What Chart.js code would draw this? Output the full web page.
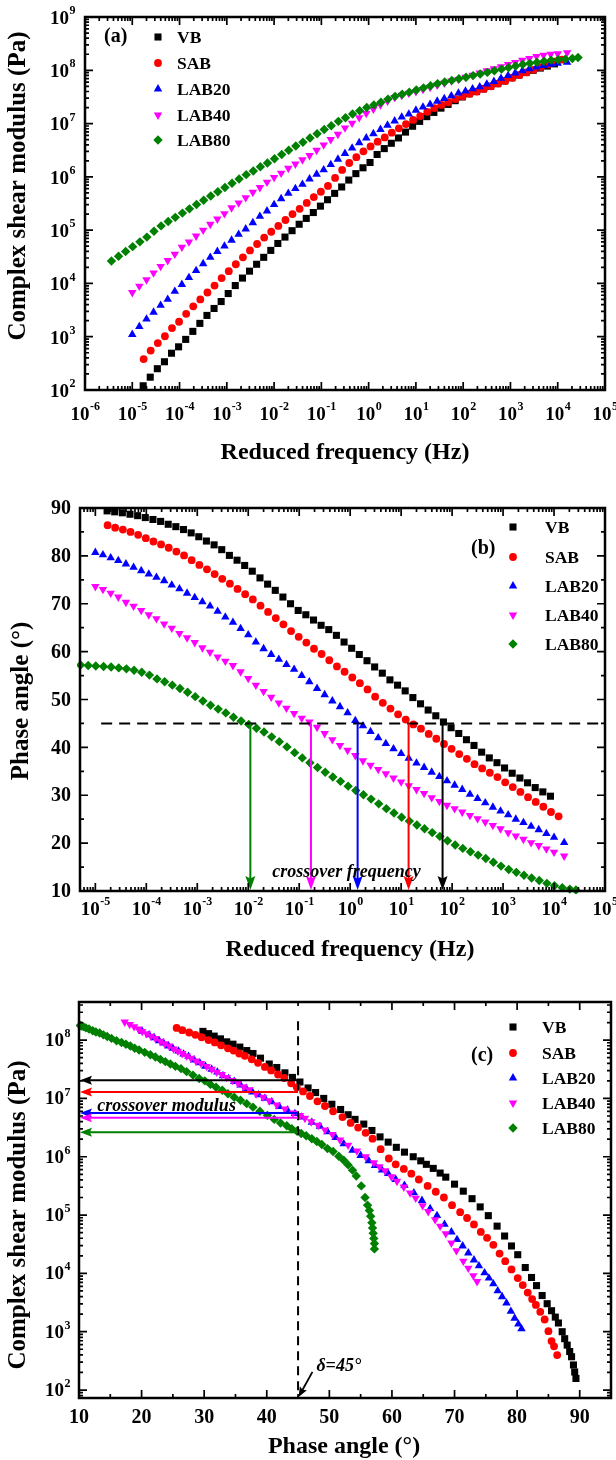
<!DOCTYPE html>
<html lang="en">
<head>
<meta charset="utf-8">
<title>Master curves, phase angle and Black diagram of VB, SAB and LAB binders</title>
<script src="https://cdn.jsdelivr.net/npm/chart.js@4.4.1/dist/chart.umd.min.js"></script>
<style>
  html, body { margin: 0; padding: 0; background: #ffffff; }
  #figure { position: relative; width: 616px; height: 1460px; overflow: hidden; background: #ffffff; }
  #figure canvas { position: absolute; left: 0; }
</style>
</head>
<body>
<div id="figure">
  <canvas id="panelA" width="616" height="480" style="top:0px"></canvas>
  <canvas id="panelB" width="616" height="490" style="top:480px"></canvas>
  <canvas id="panelC" width="616" height="490" style="top:970px"></canvas>
</div>
<script>
// ---------------------------------------------------------------------------
// Binders
const seriesNames = ['VB', 'SAB', 'LAB20', 'LAB40', 'LAB80'];

// Reduced frequency (Hz) of every point on the master curves
const freqVB = [1.70e-5, 2.40e-5, 3.39e-5, 4.79e-5, 6.76e-5, 9.55e-5, 1.35e-4, 1.91e-4, 2.69e-4, 3.80e-4,
  5.37e-4, 7.59e-4, 1.07e-3, 1.51e-3, 2.14e-3, 3.02e-3, 4.27e-3, 6.03e-3, 8.51e-3, 1.20e-2,
  1.70e-2, 2.40e-2, 3.39e-2, 4.79e-2, 6.76e-2, 9.55e-2, 0.135, 0.191, 0.269, 0.380,
  0.537, 0.759, 1.07, 1.51, 2.14, 3.02, 4.27, 6.03, 8.51, 12.0,
  17.0, 24.0, 33.9, 47.9, 67.6, 95.5, 135, 191, 269, 380,
  537, 759, 1070, 1510, 2140, 3020, 4270, 6030, 8510];
const freqSAB = [1.74e-5, 2.45e-5, 3.47e-5, 4.90e-5, 6.92e-5, 9.77e-5, 1.38e-4, 1.95e-4, 2.75e-4, 3.89e-4,
  5.50e-4, 7.76e-4, 1.10e-3, 1.55e-3, 2.19e-3, 3.09e-3, 4.37e-3, 6.17e-3, 8.71e-3, 1.23e-2,
  1.74e-2, 2.45e-2, 3.47e-2, 4.90e-2, 6.92e-2, 9.77e-2, 0.138, 0.195, 0.275, 0.389,
  0.550, 0.776, 1.10, 1.55, 2.19, 3.09, 4.37, 6.17, 8.71, 12.3,
  17.4, 24.5, 34.7, 49.0, 69.2, 97.7, 138, 195, 275, 389,
  550, 776, 1100, 1550, 2190, 3090, 4370, 6170, 8710, 12300];
// LAB20 and LAB40 share the same reduced-frequency grid
const freqLAB20 = [1.00e-5, 1.41e-5, 2.00e-5, 2.82e-5, 3.98e-5, 5.62e-5, 7.94e-5, 1.12e-4, 1.58e-4, 2.24e-4,
  3.16e-4, 4.47e-4, 6.31e-4, 8.91e-4, 1.26e-3, 1.78e-3, 2.51e-3, 3.55e-3, 5.01e-3, 7.08e-3,
  1.00e-2, 1.41e-2, 2.00e-2, 2.82e-2, 3.98e-2, 5.62e-2, 7.94e-2, 0.112, 0.158, 0.224,
  0.316, 0.447, 0.631, 0.891, 1.26, 1.78, 2.51, 3.55, 5.01, 7.08,
  10.0, 14.1, 20.0, 28.2, 39.8, 56.2, 79.4, 112, 158, 224,
  316, 447, 631, 891, 1260, 1780, 2510, 3550, 5010, 7080,
  10000, 15800];
const freqLAB40 = freqLAB20;
const freqLAB80 = [3.63e-6, 5.13e-6, 7.24e-6, 1.02e-5, 1.45e-5, 2.04e-5, 2.88e-5, 4.07e-5, 5.75e-5, 8.13e-5,
  1.15e-4, 1.62e-4, 2.29e-4, 3.24e-4, 4.57e-4, 6.46e-4, 9.12e-4, 1.29e-3, 1.82e-3, 2.57e-3,
  3.63e-3, 5.13e-3, 7.24e-3, 1.02e-2, 1.45e-2, 2.04e-2, 2.88e-2, 4.07e-2, 5.75e-2, 8.13e-2,
  0.115, 0.162, 0.229, 0.324, 0.457, 0.646, 0.912, 1.29, 1.82, 2.57,
  3.63, 5.13, 7.24, 10.2, 14.5, 20.4, 28.8, 40.7, 57.5, 81.3,
  115, 162, 229, 324, 457, 646, 912, 1290, 1820, 2570,
  3630, 5130, 7240, 10200, 14500, 20400, 26900];

// Complex shear modulus |G*| (Pa) on the master curves
const modVB = [120, 174, 251, 339, 490, 646, 891, 1260, 1780, 2510,
  3390, 4570, 6460, 9120, 1.26e4, 1.70e4, 2.29e4, 3.09e4, 4.17e4, 5.62e4,
  7.41e4, 9.77e4, 1.29e5, 1.66e5, 2.14e5, 2.82e5, 3.72e5, 4.90e5, 6.46e5, 8.71e5,
  1.15e6, 1.48e6, 1.86e6, 2.63e6, 3.39e6, 4.27e6, 5.37e6, 6.92e6, 8.91e6, 1.10e7,
  1.35e7, 1.62e7, 1.95e7, 2.29e7, 2.69e7, 3.16e7, 3.63e7, 3.98e7, 4.47e7, 5.01e7,
  5.62e7, 6.31e7, 7.24e7, 8.13e7, 9.12e7, 1.00e8, 1.10e8, 1.20e8, 1.32e8];
const modSAB = [380, 550, 759, 1020, 1450, 1910, 2690, 3720, 5010, 6760,
  9120, 1.26e4, 1.70e4, 2.29e4, 3.09e4, 4.17e4, 5.50e4, 7.24e4, 9.33e4, 1.20e5,
  1.55e5, 2.00e5, 2.51e5, 3.24e5, 4.17e5, 5.25e5, 6.76e5, 9.55e5, 1.35e6, 1.82e6,
  2.34e6, 3.02e6, 3.72e6, 4.57e6, 5.50e6, 6.76e6, 8.13e6, 9.77e6, 1.17e7, 1.38e7,
  1.66e7, 1.95e7, 2.24e7, 2.51e7, 2.88e7, 3.24e7, 3.63e7, 3.98e7, 4.47e7, 5.01e7,
  5.62e7, 6.31e7, 7.24e7, 8.13e7, 9.12e7, 1.02e8, 1.15e8, 1.29e8, 1.45e8, 1.58e8];
const modLAB20 = [1100, 1550, 2140, 2880, 3890, 5010, 7080, 9550, 1.29e4, 1.74e4,
  2.34e4, 3.09e4, 3.98e4, 5.01e4, 6.46e4, 8.32e4, 1.05e5, 1.38e5, 1.82e5, 2.29e5,
  3.02e5, 3.89e5, 4.90e5, 6.03e5, 7.24e5, 9.12e5, 1.12e6, 1.35e6, 1.70e6, 2.14e6,
  2.75e6, 3.47e6, 4.37e6, 5.37e6, 6.46e6, 7.76e6, 9.33e6, 1.12e7, 1.32e7, 1.51e7,
  1.78e7, 2.04e7, 2.29e7, 2.63e7, 2.95e7, 3.31e7, 3.72e7, 4.07e7, 4.47e7, 4.90e7,
  5.50e7, 6.17e7, 7.08e7, 7.94e7, 8.91e7, 9.77e7, 1.07e8, 1.15e8, 1.23e8, 1.29e8,
  1.35e8, 1.41e8];
const modLAB40 = [6760, 8910, 1.17e4, 1.58e4, 2.09e4, 2.69e4, 3.55e4, 4.79e4, 6.03e4, 7.76e4,
  1.00e5, 1.29e5, 1.62e5, 2.04e5, 2.63e5, 3.24e5, 4.07e5, 5.13e5, 6.31e5, 7.94e5,
  9.77e5, 1.17e6, 1.45e6, 1.74e6, 2.09e6, 2.51e6, 3.16e6, 3.98e6, 5.01e6, 6.31e6,
  8.32e6, 1.02e7, 1.29e7, 1.55e7, 1.86e7, 2.24e7, 2.63e7, 3.09e7, 3.39e7, 3.72e7,
  3.98e7, 4.37e7, 4.79e7, 5.25e7, 5.75e7, 6.31e7, 6.76e7, 7.41e7, 8.13e7, 8.91e7,
  9.77e7, 1.07e8, 1.17e8, 1.29e8, 1.41e8, 1.55e8, 1.66e8, 1.82e8, 1.91e8, 2.00e8,
  2.04e8, 2.14e8];
const modLAB80 = [2.63e4, 3.24e4, 3.98e4, 4.90e4, 6.03e4, 7.41e4, 9.55e4, 1.20e5, 1.45e5, 1.74e5,
  2.09e5, 2.51e5, 3.02e5, 3.63e5, 4.37e5, 5.25e5, 6.31e5, 7.59e5, 9.12e5, 1.10e6,
  1.29e6, 1.55e6, 1.82e6, 2.19e6, 2.63e6, 3.16e6, 3.80e6, 4.47e6, 5.37e6, 6.46e6,
  7.76e6, 9.12e6, 1.10e7, 1.29e7, 1.51e7, 1.74e7, 2.00e7, 2.24e7, 2.51e7, 2.88e7,
  3.24e7, 3.55e7, 3.89e7, 4.27e7, 4.68e7, 5.13e7, 5.62e7, 6.03e7, 6.46e7, 6.92e7,
  7.41e7, 7.94e7, 8.51e7, 9.12e7, 9.77e7, 1.05e8, 1.12e8, 1.20e8, 1.29e8, 1.35e8,
  1.41e8, 1.48e8, 1.55e8, 1.58e8, 1.62e8, 1.66e8, 1.74e8];

// Phase angle δ (°) at the same points
const phaseVB = [89.4, 89.2, 89.0, 88.7, 88.4, 88.0, 87.6, 87.2, 86.6, 86.1,
  85.5, 84.8, 84.0, 83.1, 82.3, 81.3, 80.1, 79.1, 78.0, 76.8,
  75.4, 74.1, 72.8, 71.4, 70.0, 68.6, 67.7, 66.6, 65.5, 64.6,
  63.4, 62.0, 60.7, 59.4, 58.1, 56.8, 55.5, 54.1, 53.0, 51.8,
  50.4, 49.1, 47.8, 46.6, 45.3, 44.1, 42.9, 41.6, 40.4, 39.0,
  37.8, 36.8, 35.7, 34.6, 33.6, 32.6, 31.6, 30.7, 29.8];
const phaseSAB = [86.4, 85.9, 85.5, 85.0, 84.4, 83.7, 83.0, 82.4, 81.7, 80.9,
  80.1, 79.1, 78.1, 77.2, 76.2, 75.2, 74.2, 73.1, 72.0, 70.9,
  69.6, 68.3, 67.0, 65.7, 64.3, 63.1, 61.9, 60.6, 59.5, 58.2,
  56.9, 55.8, 54.6, 53.4, 52.1, 50.6, 49.3, 48.1, 46.9, 45.8,
  44.8, 43.9, 42.8, 41.8, 40.7, 39.7, 38.6, 37.6, 36.5, 35.6,
  34.7, 33.8, 32.7, 31.7, 30.7, 29.6, 28.6, 27.6, 26.5, 25.6];
const phaseLAB20 = [80.7, 80.2, 79.6, 79.0, 78.3, 77.6, 76.9, 76.2, 75.5, 74.8,
  73.9, 73.1, 72.2, 71.3, 70.4, 69.5, 68.4, 67.2, 66.1, 64.8,
  63.5, 62.0, 60.6, 59.4, 58.4, 57.3, 56.3, 55.0, 53.7, 52.3,
  51.0, 49.7, 48.5, 47.2, 45.6, 44.5, 43.3, 42.0, 40.8, 39.7,
  38.7, 37.7, 36.7, 35.8, 34.8, 33.9, 33.0, 32.1, 31.2, 30.2,
  29.3, 28.4, 27.5, 26.7, 25.9, 25.0, 24.3, 23.5, 22.8, 22.0,
  21.2, 20.1];
const phaseLAB40 = [73.6, 73.0, 72.2, 71.4, 70.3, 69.5, 68.6, 67.7, 66.9, 65.8,
  64.9, 63.8, 62.9, 61.9, 60.8, 59.9, 58.9, 58.0, 57.1, 55.8,
  54.4, 53.0, 51.7, 50.5, 49.3, 48.2, 47.1, 46.1, 45.3, 44.2,
  42.9, 41.6, 40.4, 39.4, 38.3, 37.2, 36.3, 35.4, 34.5, 33.6,
  32.8, 32.0, 31.2, 30.4, 29.5, 28.7, 27.9, 27.2, 26.5, 25.8,
  25.1, 24.4, 23.7, 23.0, 22.2, 21.5, 20.8, 20.1, 19.5, 18.8,
  18.1, 17.3];
const phaseLAB80 = [57.2, 57.2, 57.1, 57.0, 56.9, 56.8, 56.6, 56.4, 56.1, 55.7,
  55.1, 54.3, 53.7, 53.0, 52.3, 51.5, 50.6, 49.7, 48.8, 48.0,
  47.2, 46.3, 45.5, 44.8, 44.0, 43.2, 42.2, 41.2, 40.1, 38.9,
  37.8, 36.8, 35.8, 34.8, 33.8, 32.9, 31.9, 31.0, 30.1, 29.2,
  28.2, 27.2, 26.3, 25.4, 24.6, 23.8, 23.0, 22.2, 21.4, 20.5,
  19.6, 18.9, 18.2, 17.5, 16.8, 16.0, 15.2, 14.5, 13.9, 13.3,
  12.7, 12.2, 11.6, 11.1, 10.7, 10.4, 10.2];

// |G*| (Pa) paired with the phase angles above in the Black diagram
const blackModVB = [158, 204, 269, 372, 457, 589, 759, 1000, 1410, 1780,
  2290, 3020, 4170, 6170, 8510, 1.26e4, 2.09e4, 2.95e4, 4.37e4, 6.46e4,
  9.77e4, 1.38e5, 1.91e5, 2.57e5, 3.39e5, 4.47e5, 5.25e5, 6.31e5, 7.41e5, 8.51e5,
  1.00e6, 1.20e6, 1.45e6, 1.78e6, 2.19e6, 2.82e6, 3.63e6, 4.37e6, 5.25e6, 6.46e6,
  7.94e6, 1.00e7, 1.26e7, 1.51e7, 1.91e7, 2.29e7, 2.75e7, 3.39e7, 3.89e7, 4.90e7,
  5.89e7, 6.61e7, 7.59e7, 8.51e7, 9.33e7, 1.05e8, 1.17e8, 1.29e8, 1.41e8];
const blackModSAB = [398, 562, 692, 1020, 1620, 2190, 2880, 3630, 4680, 6310,
  8320, 1.17e4, 1.62e4, 2.19e4, 3.09e4, 4.07e4, 5.13e4, 6.92e4, 8.91e4, 1.12e5,
  1.48e5, 2.00e5, 2.51e5, 3.16e5, 4.07e5, 5.13e5, 6.17e5, 7.41e5, 9.33e5, 1.35e6,
  2.04e6, 2.57e6, 3.16e6, 3.80e6, 4.79e6, 6.03e6, 7.41e6, 8.91e6, 1.10e7, 1.32e7,
  1.55e7, 1.82e7, 2.24e7, 2.57e7, 3.02e7, 3.47e7, 4.07e7, 4.68e7, 5.37e7, 5.89e7,
  6.61e7, 7.24e7, 8.13e7, 9.12e7, 1.00e8, 1.12e8, 1.23e8, 1.35e8, 1.48e8, 1.62e8];
const blackModLAB20 = [1120, 1350, 1700, 2240, 3090, 3980, 5010, 6610, 8320, 1.02e4,
  1.35e4, 1.70e4, 2.24e4, 2.95e4, 3.80e4, 5.13e4, 6.92e4, 9.77e4, 1.29e5, 1.78e5,
  2.40e5, 3.24e5, 4.07e5, 5.13e5, 5.89e5, 7.08e5, 8.51e5, 1.05e6, 1.29e6, 1.66e6,
  2.14e6, 2.69e6, 3.31e6, 3.89e6, 4.79e6, 5.50e6, 6.31e6, 7.24e6, 8.71e6, 1.00e7,
  1.15e7, 1.29e7, 1.48e7, 1.70e7, 1.95e7, 2.19e7, 2.45e7, 2.82e7, 3.16e7, 3.55e7,
  4.07e7, 4.57e7, 5.25e7, 5.75e7, 6.46e7, 7.24e7, 7.94e7, 8.91e7, 9.77e7, 1.10e8,
  1.23e8, 1.41e8];
const blackModLAB40 = [7240, 9120, 1.23e4, 1.62e4, 2.45e4, 3.31e4, 4.79e4, 6.46e4, 8.32e4, 1.15e5,
  1.45e5, 1.95e5, 2.40e5, 3.02e5, 3.80e5, 4.57e5, 5.75e5, 6.76e5, 7.94e5, 1.00e6,
  1.26e6, 1.58e6, 1.95e6, 2.40e6, 2.88e6, 3.47e6, 3.98e6, 4.57e6, 5.13e6, 5.62e6,
  6.61e6, 7.76e6, 9.12e6, 1.05e7, 1.20e7, 1.41e7, 1.58e7, 1.82e7, 2.04e7, 2.29e7,
  2.57e7, 2.82e7, 3.16e7, 3.55e7, 3.98e7, 4.37e7, 4.90e7, 5.37e7, 5.89e7, 6.46e7,
  7.08e7, 7.94e7, 8.71e7, 9.55e7, 1.07e8, 1.17e8, 1.29e8, 1.41e8, 1.55e8, 1.70e8,
  1.86e8, 2.04e8];
const blackModLAB80 = [2.63e4, 3.24e4, 3.98e4, 4.90e4, 6.03e4, 7.41e4, 9.55e4, 1.20e5, 1.48e5, 2.00e5,
  3.16e5, 4.68e5, 5.89e5, 7.24e5, 8.71e5, 1.02e6, 1.23e6, 1.38e6, 1.62e6, 1.82e6,
  2.04e6, 2.29e6, 2.51e6, 2.75e6, 3.02e6, 3.39e6, 3.80e6, 4.37e6, 5.13e6, 6.03e6,
  7.08e6, 8.13e6, 9.33e6, 1.05e7, 1.20e7, 1.38e7, 1.55e7, 1.74e7, 2.00e7, 2.19e7,
  2.51e7, 2.88e7, 3.24e7, 3.55e7, 3.89e7, 4.27e7, 4.68e7, 5.13e7, 5.62e7, 6.17e7,
  6.76e7, 7.24e7, 7.94e7, 8.51e7, 9.12e7, 9.77e7, 1.07e8, 1.15e8, 1.23e8, 1.32e8,
  1.38e8, 1.45e8, 1.55e8, 1.62e8, 1.70e8, 1.74e8, 1.78e8];

// Crossover points (δ = 45°): frequency (Hz) and modulus (Pa), in series order
const crossoverFreq = [65, 14, 1.4, 0.17, 0.011];
const crossoverModulus = [2.04e7, 1.29e7, 5.62e6, 4.68e6, 2.63e6];

// Tick labels
const freqTicksA = [1e-6, 1e-5, 1e-4, 1e-3, 1e-2, 1e-1, 1e0, 1e1, 1e2, 1e3, 1e4, 1e5];
const modulusTicksA = [1e2, 1e3, 1e4, 1e5, 1e6, 1e7, 1e8, 1e9];
const freqTicksB = [1e-5, 1e-4, 1e-3, 1e-2, 1e-1, 1e0, 1e1, 1e2, 1e3, 1e4, 1e5];
const phaseTicksB = [10, 20, 30, 40, 50, 60, 70, 80, 90];
const phaseTicksC = [10, 20, 30, 40, 50, 60, 70, 80, 90];
const modulusTicksC = [1e2, 1e3, 1e4, 1e5, 1e6, 1e7, 1e8];

// ---------------------------------------------------------------------------
// Styling
const FONT = '"Liberation Serif", "Times New Roman", Times, serif';
const COLORS = ['#000000', '#ff0000', '#0000ff', '#ff00ff', '#008000'];
const MARKERS = [
  { style: 'rect', radius: 5.0, rotation: 0 },
  { style: 'circle', radius: 3.9, rotation: 0 },
  { style: 'triangle', radius: 4.9, rotation: 0 },
  { style: 'triangle', radius: 4.9, rotation: 180 },
  { style: 'rectRot', radius: 4.7, rotation: 0 }
];

function buildDatasets(xArrays, yArrays) {
  return seriesNames.map((name, i) => ({
    label: name,
    data: xArrays[i].map((x, j) => ({ x: x, y: yArrays[i][j] })),
    pointStyle: MARKERS[i].style,
    pointRadius: MARKERS[i].radius,
    pointRotation: MARKERS[i].rotation,
    backgroundColor: COLORS[i],
    borderColor: COLORS[i],
    borderWidth: 0,
    showLine: false,
    clip: 3,
    order: seriesNames.length - i   // later binders are drawn on top
  }));
}

// Major/minor tick positions for a log axis
function logTicks(min, max) {
  const out = [];
  const k0 = Math.floor(Math.log10(min)), k1 = Math.ceil(Math.log10(max));
  for (let k = k0; k <= k1; k++) {
    for (let m = 1; m <= 9; m++) {
      const v = m * Math.pow(10, k);
      if (v >= min * 0.9999 && v <= max * 1.0001) out.push({ v: v, major: m === 1 });
    }
  }
  return out;
}
// Major/minor tick positions for a linear axis
function linTicks(min, max, minorStep, majorStep) {
  const out = [];
  for (let v = Math.ceil(min / minorStep) * minorStep; v <= max + 1e-9; v += minorStep) {
    out.push({ v: v, major: Math.abs(v / majorStep - Math.round(v / majorStep)) < 1e-6 });
  }
  return out;
}

function drawFrameAndTicks(chart, xTicks, yTicks, minorLen) {
  const ctx = chart.ctx, a = chart.chartArea, xs = chart.scales.x, ys = chart.scales.y;
  ctx.save();
  ctx.strokeStyle = '#000';
  ctx.lineWidth = 1.7;
  ctx.beginPath();
  xTicks.forEach(t => {
    const p = xs.getPixelForValue(t.v);
    if (p < a.left + 1.5 || p > a.right - 1.5) return;
    const len = t.major ? 8 : minorLen;
    ctx.moveTo(p, a.bottom); ctx.lineTo(p, a.bottom - len);
    ctx.moveTo(p, a.top); ctx.lineTo(p, a.top + len);
  });
  yTicks.forEach(t => {
    const p = ys.getPixelForValue(t.v);
    if (p < a.top + 1.5 || p > a.bottom - 1.5) return;
    const len = t.major ? 8 : minorLen;
    ctx.moveTo(a.left, p); ctx.lineTo(a.left + len, p);
    ctx.moveTo(a.right, p); ctx.lineTo(a.right - len, p);
  });
  ctx.stroke();
  ctx.lineWidth = 2.5;
  ctx.strokeRect(a.left, a.top, a.right - a.left, a.bottom - a.top);
  ctx.restore();
}

// "10" with a superscript exponent
function drawPow(ctx, exponent, x, y, align, supDy) {
  const base = 'bold 19px ' + FONT, sup = 'bold 12px ' + FONT;
  const e = String(exponent);
  ctx.font = base; const wb = ctx.measureText('10').width;
  ctx.font = sup; const ws = ctx.measureText(e).width;
  const x0 = align === 'center' ? x - (wb + ws) / 2 : x - (wb + ws);
  ctx.textAlign = 'left'; ctx.textBaseline = 'middle'; ctx.fillStyle = '#000';
  ctx.font = base; ctx.fillText('10', x0, y);
  ctx.font = sup; ctx.fillText(e, x0 + wb + 0.5, y + supDy);
}

function drawText(ctx, text, x, y, font, rotateDeg) {
  ctx.save();
  ctx.translate(x, y);
  if (rotateDeg) ctx.rotate(rotateDeg * Math.PI / 180);
  ctx.font = font; ctx.fillStyle = '#000';
  ctx.textAlign = 'center'; ctx.textBaseline = 'middle';
  ctx.fillText(text, 0, 0);
  ctx.restore();
}

function drawMarker(ctx, i, x, y) {
  const m = MARKERS[i], r = m.radius;
  ctx.save();
  ctx.fillStyle = COLORS[i];
  ctx.beginPath();
  if (m.style === 'rect') {
    const s = r * Math.SQRT1_2;
    ctx.rect(x - s, y - s, 2 * s, 2 * s);
  } else if (m.style === 'circle') {
    ctx.arc(x, y, r, 0, Math.PI * 2);
  } else if (m.style === 'triangle') {
    const d = m.rotation ? -1 : 1;
    ctx.moveTo(x, y - d * r);
    ctx.lineTo(x + r * 0.866, y + d * r / 2);
    ctx.lineTo(x - r * 0.866, y + d * r / 2);
    ctx.closePath();
  } else {
    ctx.moveTo(x, y - r); ctx.lineTo(x + r, y); ctx.lineTo(x, y + r); ctx.lineTo(x - r, y);
    ctx.closePath();
  }
  ctx.fill();
  ctx.restore();
}

function drawLegend(ctx, tag, tagX, tagY, markerX, textX, rows) {
  ctx.save();
  ctx.fillStyle = '#000';
  ctx.textAlign = 'left'; ctx.textBaseline = 'middle';
  ctx.font = 'bold 20px ' + FONT;
  ctx.fillText(tag, tagX, tagY);
  rows.forEach((y, i) => {
    drawMarker(ctx, i, markerX, y);
    ctx.font = 'bold 17.5px ' + FONT;
    ctx.fillStyle = '#000';
    ctx.fillText(seriesNames[i], textX, y + 1);
  });
  ctx.restore();
}

function drawArrow(ctx, x1, y1, x2, y2, color, lw, headLen, headW) {
  const ang = Math.atan2(y2 - y1, x2 - x1);
  const bx = x2 - Math.cos(ang) * headLen, by = y2 - Math.sin(ang) * headLen;
  ctx.save();
  ctx.strokeStyle = color; ctx.fillStyle = color; ctx.lineWidth = lw;
  ctx.beginPath(); ctx.moveTo(x1, y1); ctx.lineTo(x2 - Math.cos(ang) * headLen * 0.6, y2 - Math.sin(ang) * headLen * 0.6); ctx.stroke();
  ctx.beginPath();
  ctx.moveTo(x2, y2);
  ctx.lineTo(bx + Math.sin(ang) * headW / 2, by - Math.cos(ang) * headW / 2);
  ctx.lineTo(x2 - Math.cos(ang) * headLen * 0.82, y2 - Math.sin(ang) * headLen * 0.82);
  ctx.lineTo(bx - Math.sin(ang) * headW / 2, by + Math.cos(ang) * headW / 2);
  ctx.closePath(); ctx.fill();
  ctx.restore();
}

// ---------------------------------------------------------------------------
// Panel decorations
function decorA(chart) {
  const ctx = chart.ctx, a = chart.chartArea, xs = chart.scales.x, ys = chart.scales.y;
  drawFrameAndTicks(chart, logTicks(xs.min, xs.max), logTicks(ys.min, ys.max), 4);
  freqTicksA.forEach(v => drawPow(ctx, Math.round(Math.log10(v)), xs.getPixelForValue(v), a.bottom + 25, 'center', -8));
  modulusTicksA.forEach(v => drawPow(ctx, Math.round(Math.log10(v)), a.left - 10, ys.getPixelForValue(v) + 2, 'right', -8));
  drawText(ctx, 'Reduced frequency (Hz)', 345, 453, 'bold 24px ' + FONT, 0);
  drawText(ctx, 'Complex shear modulus (Pa)', 19, 186, 'bold 25px ' + FONT, -90);
  drawLegend(ctx, '(a)', 104, 37, 158, 177, [37, 63, 89, 115, 140]);
}

function decorB(chart) {
  const ctx = chart.ctx, a = chart.chartArea, xs = chart.scales.x, ys = chart.scales.y;
  const y45 = ys.getPixelForValue(45);
  ctx.save();
  ctx.strokeStyle = '#000'; ctx.lineWidth = 2; ctx.setLineDash([11, 7]);
  ctx.beginPath(); ctx.moveTo(xs.getPixelForValue(1.3e-5), y45); ctx.lineTo(a.right, y45); ctx.stroke();
  ctx.restore();
  crossoverFreq.forEach((f, i) => {
    const x = xs.getPixelForValue(f);
    drawArrow(ctx, x, y45, x, a.bottom - 1, COLORS[i], 2, 14, 10);
  });
  drawText(ctx, 'crossover frequency', xs.getPixelForValue(0.85), ys.getPixelForValue(14), 'italic bold 18px ' + FONT, 0);
  drawFrameAndTicks(chart, logTicks(xs.min, xs.max), linTicks(ys.min, ys.max, 5, 10), 4);
  ctx.save();
  freqTicksB.forEach(v => drawPow(ctx, Math.round(Math.log10(v)), xs.getPixelForValue(v), a.bottom + 19, 'center', -8));
  ctx.font = 'bold 20px ' + FONT; ctx.fillStyle = '#000'; ctx.textAlign = 'right'; ctx.textBaseline = 'middle';
  phaseTicksB.forEach(v => ctx.fillText(String(v), a.left - 9, ys.getPixelForValue(v) + 1));
  ctx.restore();
  drawText(ctx, 'Reduced frequency (Hz)', 350, 470, 'bold 24px ' + FONT, 0);
  drawText(ctx, 'Phase angle (\u00B0)', 22, 221, 'bold 25px ' + FONT, -90);
  drawLegend(ctx, '(b)', 471, 69, 513, 545, [47, 77, 106, 135, 164]);
}

function decorC(chart) {
  const ctx = chart.ctx, a = chart.chartArea, xs = chart.scales.x, ys = chart.scales.y;
  const x45 = xs.getPixelForValue(45);
  ctx.save();
  ctx.strokeStyle = '#000'; ctx.lineWidth = 2; ctx.setLineDash([9, 6]);
  ctx.beginPath(); ctx.moveTo(x45, ys.getPixelForValue(2.1e8)); ctx.lineTo(x45, a.bottom); ctx.stroke();
  ctx.restore();
  crossoverModulus.forEach((g, i) => {
    const y = ys.getPixelForValue(g);
    drawArrow(ctx, x45, y, a.left + 1, y, COLORS[i], 2, 12, 9);
  });
  drawText(ctx, 'crossover modulus', xs.getPixelForValue(24), ys.getPixelForValue(7.4e6), 'italic bold 18px ' + FONT, 0);
  drawText(ctx, '\u03B4=45\u00B0', xs.getPixelForValue(51.5), ys.getPixelForValue(250), 'italic bold 18px ' + FONT, 0);
  drawArrow(ctx, xs.getPixelForValue(47.3), ys.getPixelForValue(205), x45 + 0.5, a.bottom - 1, '#000', 1.8, 10, 8);
  drawFrameAndTicks(chart, linTicks(xs.min, xs.max, 5, 10), logTicks(ys.min, ys.max), 4);
  ctx.save();
  ctx.font = 'bold 20px ' + FONT; ctx.fillStyle = '#000'; ctx.textAlign = 'center'; ctx.textBaseline = 'middle';
  phaseTicksC.forEach(v => ctx.fillText(String(v), xs.getPixelForValue(v), a.bottom + 20));
  modulusTicksC.forEach(v => drawPow(ctx, Math.round(Math.log10(v)), a.left - 9, ys.getPixelForValue(v) + 1, 'right', -7));
  ctx.restore();
  drawText(ctx, 'Phase angle (\u00B0)', 344, 477, 'bold 24px ' + FONT, 0);
  drawText(ctx, 'Complex shear modulus (Pa)', 19, 245, 'bold 25px ' + FONT, -90);
  drawLegend(ctx, '(c)', 471, 86, 513, 542, [57, 83, 108, 133, 158]);
}

// ---------------------------------------------------------------------------
function makeChart(id, cfg) {
  const canvas = document.getElementById(id);
  const H = canvas.height, W = canvas.width;
  const axis = (type, min, max, fit) => ({
    type: type, min: min, max: max,
    ticks: { display: false }, grid: { display: false }, border: { display: false },
    afterFit: fit
  });
  return new Chart(canvas, {
    type: 'scatter',
    data: { datasets: cfg.datasets },
    options: {
      responsive: false,
      animation: false,
      devicePixelRatio: 1,
      events: [],
      layout: { padding: { left: 0, right: W - cfg.area.right, top: cfg.area.top, bottom: 0 } },
      plugins: { legend: { display: false }, tooltip: { enabled: false } },
      scales: {
        x: axis(cfg.xType, cfg.xMin, cfg.xMax, s => { s.height = H - cfg.area.bottom; }),
        y: axis(cfg.yType, cfg.yMin, cfg.yMax, s => { s.width = cfg.area.left; })
      }
    },
    plugins: [{ id: 'decor_' + id, afterDraw: cfg.decor }]
  });
}

const freqs = [freqVB, freqSAB, freqLAB20, freqLAB40, freqLAB80];
const moduli = [modVB, modSAB, modLAB20, modLAB40, modLAB80];
const phases = [phaseVB, phaseSAB, phaseLAB20, phaseLAB40, phaseLAB80];
const blackModuli = [blackModVB, blackModSAB, blackModLAB20, blackModLAB40, blackModLAB80];

makeChart('panelA', {
  datasets: buildDatasets(freqs, moduli),
  xType: 'logarithmic', xMin: 1e-6, xMax: 1e5,
  yType: 'logarithmic', yMin: 1e2, yMax: 1e9,
  area: { left: 85, right: 605, top: 17, bottom: 390 },
  decor: decorA
});
makeChart('panelB', {
  datasets: buildDatasets(freqs, phases),
  xType: 'logarithmic', xMin: 5.0e-6, xMax: 1e5,
  yType: 'linear', yMin: 10, yMax: 90,
  area: { left: 80, right: 605, top: 28, bottom: 411 },
  decor: decorB
});
makeChart('panelC', {
  datasets: buildDatasets(phases, blackModuli),
  xType: 'linear', xMin: 10, xMax: 95,
  yType: 'logarithmic', yMin: 73, yMax: 4.5e8,
  area: { left: 79, right: 613, top: 32, bottom: 428 },
  decor: decorC
});
</script>
</body>
</html>
